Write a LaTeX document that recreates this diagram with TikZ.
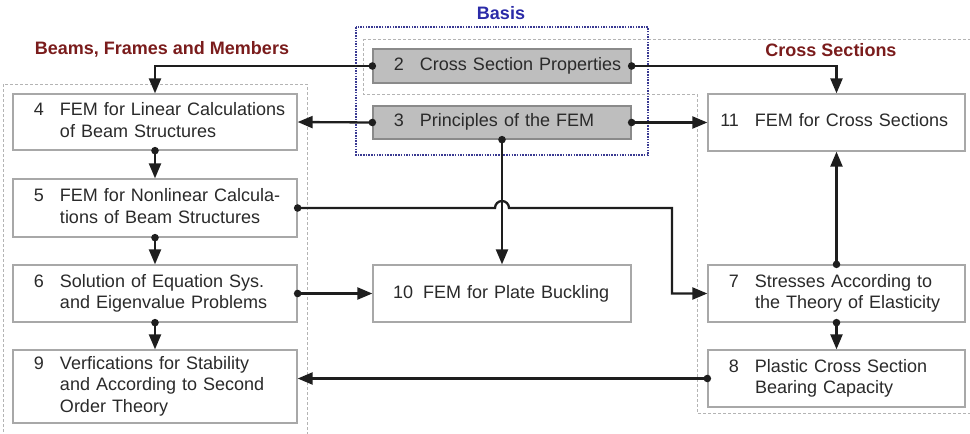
\documentclass[tikz,border=0pt]{standalone}
\usepackage{fontspec}
\setmainfont{Liberation Sans}
\usetikzlibrary{arrows.meta}

\definecolor{linegray}{HTML}{1E1E1E}
\definecolor{textgray}{HTML}{2A2A2A}
\definecolor{boxgray}{HTML}{A8A8A8}
\definecolor{basefill}{HTML}{BEBEBE}
\definecolor{baseline}{HTML}{8A8A8A}
\definecolor{groupgray}{HTML}{B4B4B4}
\definecolor{basisblue}{HTML}{3A3A92}
\definecolor{titlered}{HTML}{7A1C1C}
\definecolor{titleblue}{HTML}{2B2BA8}

% number in front, lines of the chapter title beside it
\newcommand{\chap}[2]{\mbox{\makebox[19pt][r]{#1}\hspace{16pt}\begin{tabular}[t]{@{}l@{}}#2\end{tabular}}}

\tikzset{
  box/.style={draw=boxgray, line width=1.3pt, fill=white, inner xsep=12pt, inner ysep=0pt,
    align=left, text=textgray, font=\fontsize{18}{21.5}\selectfont},
  leftbox/.style={box, text width=260pt},
  rightbox/.style={box, text width=233pt},
  midbox/.style={box, text width=234pt},
  basebox/.style={midbox, fill=basefill, draw=baseline},
  title/.style={font=\bfseries\fontsize{18}{21}\selectfont},
  group/.style={draw=groupgray, line width=1pt, dash pattern=on 3pt off 2pt},
  conn/.style={draw=linegray, line width=2.3pt, -{Triangle[length=15pt,width=12pt]}}
}

\begin{document}
\begin{tikzpicture}[x=1pt, y=-1pt]
  \useasboundingbox (0,0) rectangle (970,434);
  \clip (0,0) rectangle (970,434);

  % Group outlines
  \draw[group] (3,84) rectangle (307,440);
  \draw[group] (363,39) -- (975,39) -- (975,413) -- (697,413) -- (697,94) -- (363,94) -- cycle;
  \draw[basisblue, line width=1.2pt, dash pattern=on 1.5pt off 1.2pt] (356,27) rectangle (648,155);

  % Group titles
  \node[title, text=titleblue] (tbasis) at (501,13) {Basis};
  \node[title, text=titlered] (tbeams) at (162,49) {Beams, Frames and Members};
  \node[title, text=titlered] (tcross) at (831,50) {Cross Sections};

  % Basis chapters
  \node[basebox, minimum height=34pt] (b2) at (502,66) {\chap{2}{Cross Section Properties}};
  \node[basebox, minimum height=33pt] (b3) at (502,122.5) {\chap{3}{Principles of the FEM}};

  % Left column
  \node[leftbox, minimum height=56pt] (b4) at (155,122) {\chap{4}{FEM for Linear Calculations\\of Beam Structures}};
  \node[leftbox, minimum height=58pt] (b5) at (155,208) {\chap{5}{FEM for Nonlinear Calcula-\\tions of Beam Structures}};
  \node[leftbox, minimum height=57pt] (b6) at (155,293.5) {\chap{6}{Solution of Equation Sys.\\and Eigenvalue Problems}};
  \node[leftbox, minimum height=73pt] (b9) at (155,386.5) {\chap{9}{Verfications for Stability\\and According to Second\\Order Theory}};

  % Middle
  \node[midbox, minimum height=57pt, inner xsep=20pt, text width=218pt] (b10) at (502,293.5) {10\hspace{10pt}FEM for Plate Buckling};

  % Right column
  \node[rightbox, minimum height=57pt] (b11) at (836.5,122.5) {\chap{11}{FEM for Cross Sections}};
  \node[rightbox, minimum height=57pt] (b7) at (836.5,293.5) {\chap{7}{Stresses According to\\the Theory of Elasticity}};
  \node[rightbox, minimum height=57pt] (b8) at (836.5,378.5) {\chap{8}{Plastic Cross Section\\Bearing Capacity}};

  % Connectors
  \coordinate (turn) at (672,0);
  \draw[conn] (b2.west) -| (b4.north);
  \draw[conn] (b2.east) -| (b11.north);
  \draw[conn] (b3.west) -- (b4.east);
  \draw[conn] (b3.east) -- (b11.west);
  \draw[conn] (b3.south) -- (b10.north);
  \draw[conn] (b5.east) -- ([xshift=-7pt]b3.south |- b5.east)
    arc[start angle=180, end angle=0, radius=7pt] -- (turn |- b5.east) |- (b7.west);
  \draw[conn] (b6.east) -- (b10.west);
  \draw[conn] (b4.south) -- (b5.north);
  \draw[conn] (b5.south) -- (b6.north);
  \draw[conn] (b6.south) -- (b9.north);
  \draw[conn] (b7.north) -- (b11.south);
  \draw[conn] (b7.south) -- (b8.north);
  \draw[conn] (b8.west) -- (b8.west -| b9.east);

  % Start dots
  \foreach \p in {b2.west, b2.east, b3.west, b3.east, b3.south, b4.south, b5.south, b6.south,
      b5.east, b6.east, b7.north, b7.south, b8.west}
    \fill[linegray] (\p) circle (3.8pt);
\end{tikzpicture}
\end{document}
